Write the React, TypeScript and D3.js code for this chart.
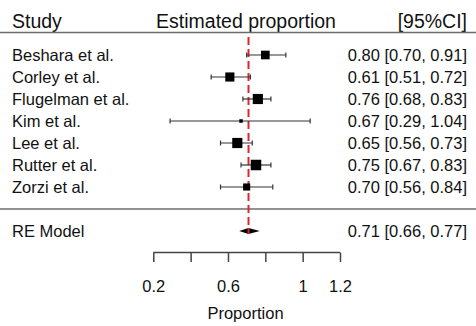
import { useEffect, useRef } from 'react';
import * as d3 from 'd3';

const studies = ['Beshara et al.', 'Corley et al.', 'Flugelman et al.', 'Kim et al.', 'Lee et al.', 'Rutter et al.', 'Zorzi et al.'];
const estimates = [0.80, 0.61, 0.76, 0.67, 0.65, 0.75, 0.70];
const lower = [0.70, 0.51, 0.68, 0.29, 0.56, 0.67, 0.56];
const upper = [0.91, 0.72, 0.83, 1.04, 0.73, 0.83, 0.84];
const weights = [13.9, 15.5, 19.2, 2.3, 19.2, 20.5, 9.4];

const reModel = { label: 'RE Model', est: 0.71, lo: 0.66, hi: 0.77 };
const xTicks = [0.2, 0.4, 0.6, 0.8, 1.0, 1.2];
const xTickLabels = ['0.2', '', '0.6', '', '1', '1.2'];

const W = 476;
const H = 326;
const FONT = 'Liberation Sans, Arial, sans-serif';

export default function App() {
  const svgRef = useRef<SVGSVGElement>(null);

  useEffect(() => {
    if (!svgRef.current) return;
    const svg = d3.select(svgRef.current);
    svg.selectAll('*').remove();

    const x = d3.scaleLinear().domain([0.2, 1.2]).range([153.3, 340]);
    // rows 0..6 are studies, 7 is the separator, 8 is RE model
    const y = d3.scaleLinear().domain([0, 8]).range([55, 231]);
    const size = d3.scaleSqrt().domain([0, d3.max(weights) || 1]).range([0, 10.5]);

    const fmt = d3.format('.2f');
    const grey = '#6b6b6b';

    // header
    const header = svg.append('g').attr('font-family', FONT).attr('font-size', 19.5).attr('fill', '#111');
    header.append('text').attr('x', 12).attr('y', 28).text('Study');
    header.append('text').attr('x', 246).attr('y', 28).attr('text-anchor', 'middle').text('Estimated proportion');
    header.append('text').attr('x', 467).attr('y', 28).attr('text-anchor', 'end').text('[95%CI]');

    svg.append('line')
      .attr('x1', 0).attr('x2', W)
      .attr('y1', 32.5).attr('y2', 32.5)
      .attr('stroke', grey).attr('stroke-width', 1.5);

    svg.append('line')
      .attr('x1', 0).attr('x2', W)
      .attr('y1', y(7)).attr('y2', y(7))
      .attr('stroke', grey).attr('stroke-width', 1.5);

    // reference line at pooled estimate
    svg.append('line')
      .attr('x1', x(reModel.est)).attr('x2', x(reModel.est))
      .attr('y1', 37).attr('y2', y(8) + 3)
      .attr('stroke', '#e0252b').attr('stroke-width', 2)
      .attr('stroke-dasharray', '8,4');

    // study rows
    const rows = svg.append('g');
    studies.forEach((name, i) => {
      const cy = y(i);
      const g = rows.append('g');
      g.append('line')
        .attr('x1', x(lower[i])).attr('x2', x(upper[i]))
        .attr('y1', cy).attr('y2', cy)
        .attr('stroke', '#333').attr('stroke-width', 1.2);
      [lower[i], upper[i]].forEach(v => {
        g.append('line')
          .attr('x1', x(v)).attr('x2', x(v))
          .attr('y1', cy - 2.5).attr('y2', cy + 2.5)
          .attr('stroke', '#333').attr('stroke-width', 1.2);
      });
      const s = size(weights[i]);
      g.append('rect')
        .attr('x', x(estimates[i]) - s / 2).attr('y', cy - s / 2)
        .attr('width', s).attr('height', s)
        .attr('fill', '#000');

      g.append('text')
        .attr('x', 12).attr('y', cy + 5.8)
        .attr('font-family', FONT).attr('font-size', 16.5).attr('fill', '#111')
        .text(name);
      g.append('text')
        .attr('x', 467).attr('y', cy + 5.8)
        .attr('text-anchor', 'end')
        .attr('font-family', FONT).attr('font-size', 16.5).attr('fill', '#111')
        .text(`${fmt(estimates[i])} [${fmt(lower[i])}, ${fmt(upper[i])}]`);
    });

    // RE model diamond
    const dy = y(8);
    svg.append('path')
      .attr('d', `M${x(reModel.lo)},${dy}L${x(reModel.est)},${dy - 3}L${x(reModel.hi)},${dy}L${x(reModel.est)},${dy + 3}Z`)
      .attr('fill', '#000');
    svg.append('line')
      .attr('x1', x(reModel.est)).attr('x2', x(reModel.est))
      .attr('y1', dy - 3).attr('y2', dy + 3)
      .attr('stroke', '#e0252b').attr('stroke-width', 2);
    svg.append('text')
      .attr('x', 12).attr('y', dy + 5.8)
      .attr('font-family', FONT).attr('font-size', 16.5).attr('fill', '#111')
      .text(reModel.label);
    svg.append('text')
      .attr('x', 467).attr('y', dy + 5.8)
      .attr('text-anchor', 'end')
      .attr('font-family', FONT).attr('font-size', 16.5).attr('fill', '#111')
      .text(`${fmt(reModel.est)} [${fmt(reModel.lo)}, ${fmt(reModel.hi)}]`);

    // x axis
    const axisY = 252.5;
    const axis = d3.axisBottom(x)
      .tickValues(xTicks)
      .tickSize(9.5)
      .tickSizeOuter(0)
      .tickPadding(18)
      .tickFormat((_, i) => xTickLabels[i]);
    const ax = svg.append('g')
      .attr('transform', `translate(0,${axisY})`)
      .call(axis);
    ax.select('.domain').attr('stroke', '#444').attr('stroke-width', 1.5).attr('d', `M${x(0.2)},0H${x(1.2)}`);
    ax.selectAll('.tick line').attr('stroke', '#444').attr('stroke-width', 1.5);
    ax.selectAll('.tick text')
      .attr('font-family', FONT).attr('font-size', 16.5).attr('fill', '#111');

    svg.append('text')
      .attr('x', x(0.71) - 3).attr('y', 319)
      .attr('text-anchor', 'middle')
      .attr('font-family', FONT).attr('font-size', 16.5).attr('fill', '#111')
      .text('Proportion');
  }, []);

  return (
    <svg ref={svgRef} width={W} height={H}
      style={{ position: 'absolute', left: 0, top: 0, background: '#fff' }} />
  );
}
